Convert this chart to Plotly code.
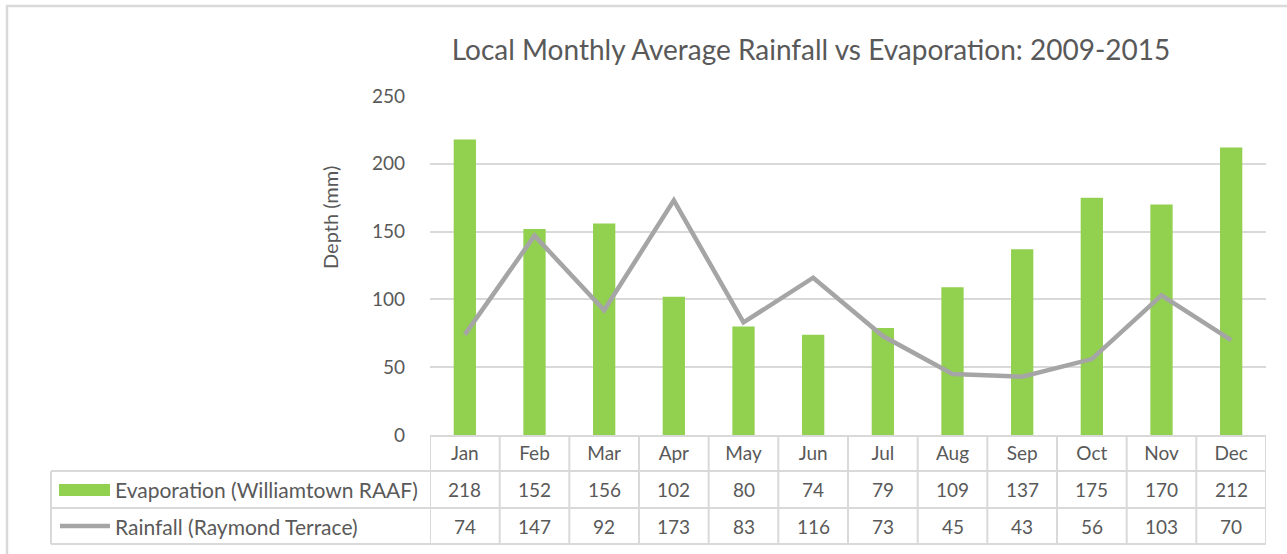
import plotly.graph_objects as go

months = ["Jan", "Feb", "Mar", "Apr", "May", "Jun", "Jul", "Aug", "Sep", "Oct", "Nov", "Dec"]
evaporation = [218, 152, 156, 102, 80, 74, 79, 109, 137, 175, 170, 212]
rainfall = [74, 147, 92, 173, 83, 116, 73, 45, 43, 56, 103, 70]
evap_name = "Evaporation (Williamtown RAAF)"
rain_name = "Rainfall (Raymond Terrace)"
title_text = "Local Monthly Average Rainfall vs Evaporation: 2009-2015"
y_title = "Depth (mm)"
y_ticks = [0, 50, 100, 150, 200, 250]

W, H = 1287, 554
L, R, T, B = 430, 1266, 96, 435  # plot area in pixels
FONT = "Lato"
TXT = "#595959"
GRID = "#d9d9d9"
GREEN = "#92d050"
GREY = "#a5a5a5"


def px(x):
    return (x - L) / (R - L)


def py(y):
    return (B - y) / (B - T)


fig = go.Figure()
fig.add_trace(go.Bar(x=months, y=evaporation, name=evap_name, marker_color=GREEN,
                     marker_line_width=0, width=0.32, showlegend=False))
fig.add_trace(go.Scatter(x=months, y=rainfall, name=rain_name, mode="lines",
                         line=dict(color=GREY, width=4.5), showlegend=False))

shapes = []
# outer chart border
shapes.append(dict(type="rect", xref="paper", yref="paper", x0=px(7), x1=px(1300),
                   y0=py(570), y1=py(6), line=dict(color=GRID, width=2.5), layer="below"))
# table horizontal lines
for yy in [471, 508, 544]:
    shapes.append(dict(type="line", xref="paper", yref="paper", x0=px(51), x1=1,
                       y0=py(yy), y1=py(yy), line=dict(color=GRID, width=2)))
# legend column left border
shapes.append(dict(type="line", xref="paper", yref="paper", x0=px(51), x1=px(51),
                   y0=py(471), y1=py(544), line=dict(color=GRID, width=2)))
# vertical column lines
for i in range(len(months) + 1):
    shapes.append(dict(type="line", xref="x", yref="paper", x0=i - 0.5, x1=i - 0.5,
                       y0=py(435), y1=py(544), line=dict(color=GRID, width=2)))
# legend keys
shapes.append(dict(type="rect", xref="paper", yref="paper", x0=px(59), x1=px(110),
                   y0=py(496), y1=py(484), fillcolor=GREEN, line=dict(width=0)))
shapes.append(dict(type="line", xref="paper", yref="paper", x0=px(60), x1=px(110),
                   y0=py(526), y1=py(526), line=dict(color=GREY, width=4.5)))

numfont = dict(family=FONT, size=19, color=TXT)
annotations = []
for i, m in enumerate(months):
    annotations.append(dict(x=m, y=py(489.5), xref="x", yref="paper", text=str(evaporation[i]),
                            xanchor="center", yanchor="middle", showarrow=False, font=numfont))
    annotations.append(dict(x=m, y=py(526), xref="x", yref="paper", text=str(rainfall[i]),
                            xanchor="center", yanchor="middle", showarrow=False, font=numfont))
labfont = dict(family=FONT, size=21, color=TXT)
annotations.append(dict(x=px(113), y=py(489.5), xref="paper", yref="paper", text=evap_name,
                        xanchor="left", yanchor="middle", showarrow=False, font=labfont))
annotations.append(dict(x=px(113), y=py(526), xref="paper", yref="paper", text=rain_name,
                        xanchor="left", yanchor="middle", showarrow=False, font=labfont))
annotations.append(dict(x=px(330), y=py(218), xref="paper", yref="paper", text=y_title,
                        xanchor="center", yanchor="middle", textangle=-90, showarrow=False,
                        font=dict(family=FONT, size=20, color=TXT)))

fig.update_layout(
    width=W, height=H,
    margin=dict(l=L, r=W - R, t=T, b=H - B, pad=0),
    paper_bgcolor="white", plot_bgcolor="white",
    title=dict(text=title_text, xref="paper", x=px(811), xanchor="center",
               yref="container", y=1 - 50 / H, yanchor="middle",
               font=dict(family=FONT, size=28, color=TXT)),
    xaxis=dict(type="category", range=[-0.5, 11.5], showgrid=False, ticks="",
               showline=True, linecolor=GRID, linewidth=2,
               tickfont=dict(family=FONT, size=19, color=TXT), ticklabelstandoff=0),
    yaxis=dict(range=[0, 250], tickvals=y_ticks, showgrid=True, gridcolor=GRID, gridwidth=2,
               zeroline=False, ticks="", showline=False,
               tickfont=dict(family=FONT, size=19, color=TXT), ticklabelstandoff=24),
    shapes=shapes, annotations=annotations,
)

fig.write_html("out.html", config={"displayModeBar": False},
               post_script="document.body.style.margin='0';")
